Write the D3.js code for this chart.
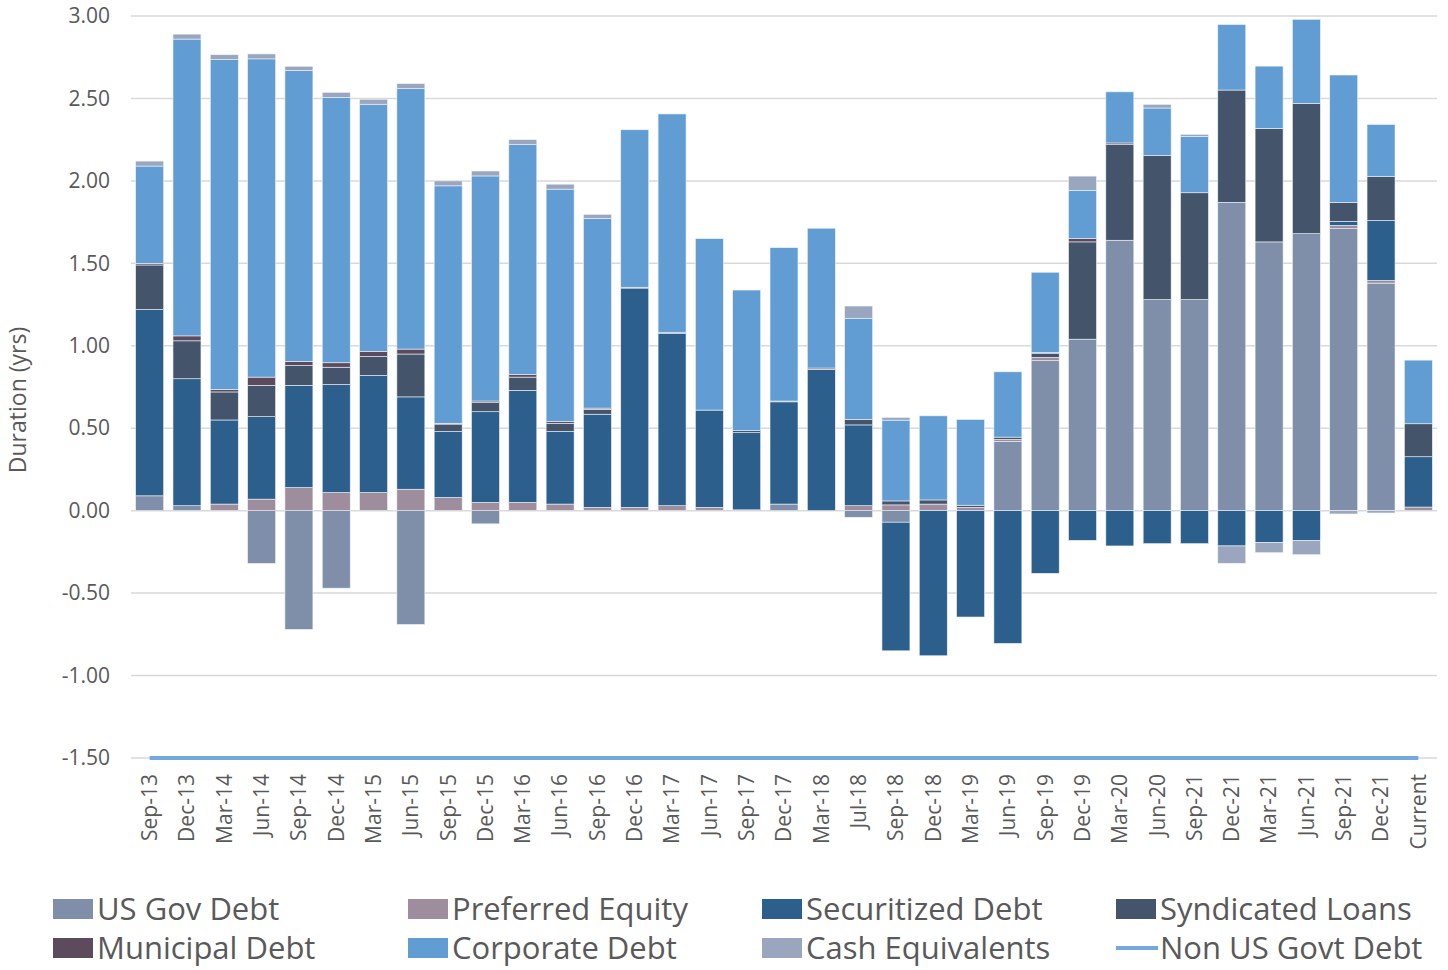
<!DOCTYPE html>
<html>
<head>
<meta charset="utf-8">
<script src="https://cdn.jsdelivr.net/npm/d3@7"></script>
<style>
  body { margin: 0; background: #fff; }
  text { font-family: "Open Sans", sans-serif; fill: #595959; }
</style>
</head>
<body>
<div id="grafico"></div>
<script>
// Dados do gráfico
const categories = ["Sep-13", "Dec-13", "Mar-14", "Jun-14", "Sep-14", "Dec-14", "Mar-15", "Jun-15",
  "Sep-15", "Dec-15", "Mar-16", "Jun-16", "Sep-16", "Dec-16", "Mar-17", "Jun-17", "Sep-17", "Dec-17",
  "Mar-18", "Jul-18", "Sep-18", "Dec-18", "Mar-19", "Jun-19", "Sep-19", "Dec-19", "Mar-20", "Jun-20",
  "Sep-21", "Dec-21", "Mar-21", "Jun-21", "Sep-21", "Dec-21", "Current"];

const usGovDebt = [0.09, 0.03, 0, -0.32, -0.72, -0.47, 0, -0.69, 0, -0.08, 0, 0, 0, 0, 0, 0, 0, 0.04,
  0, -0.04, -0.07, 0, 0, 0.42, 0.91, 1.04, 1.64, 1.28, 1.28, 1.87, 1.63, 1.68, 1.71, 1.38, 0];
const preferredEquity = [0, 0, 0.04, 0.07, 0.14, 0.11, 0.11, 0.13, 0.08, 0.05, 0.05, 0.04, 0.02, 0.02,
  0.03, 0.02, 0.005, 0, 0, 0.03, 0.035, 0.04, 0.02, 0.012, 0.02, 0, 0, 0, 0, 0, 0, 0, 0.02, 0.016, 0.022];
const securitizedDebt = [1.13, 0.77, 0.51, 0.50, 0.62, 0.655, 0.71, 0.56, 0.40, 0.55, 0.68, 0.44, 0.565,
  1.33, 1.045, 0.59, 0.468, 0.62, 0.857, 0.49, -0.78, -0.88, -0.645, -0.805, -0.38, -0.18, -0.214, -0.2,
  -0.2, -0.214, -0.194, -0.182, 0.025, 0.364, 0.305];
const syndicatedLoans = [0.27, 0.23, 0.17, 0.19, 0.12, 0.105, 0.115, 0.26, 0.045, 0.055, 0.08, 0.05, 0.03,
  0.005, 0.007, 0, 0.012, 0.005, 0, 0.034, 0.024, 0.025, 0.013, 0.014, 0.025, 0.59, 0.58, 0.873, 0.648,
  0.681, 0.688, 0.79, 0.115, 0.268, 0.2];
const municipalDebt = [0.01, 0.03, 0.015, 0.05, 0.025, 0.027, 0.03, 0.03, 0.005, 0.01, 0.015, 0.01, 0.007,
  0, 0, 0, 0, 0, 0.008, 0, 0, 0, 0, 0, 0.004, 0.02, 0.01, 0, 0, 0, 0, 0, 0, 0, 0];
const corporateDebt = [0.59, 1.80, 2.00, 1.93, 1.765, 1.61, 1.50, 1.58, 1.44, 1.365, 1.395, 1.41, 1.15,
  0.955, 1.324, 1.04, 0.853, 0.93, 0.848, 0.613, 0.49, 0.51, 0.52, 0.396, 0.487, 0.293, 0.31, 0.289,
  0.342, 0.397, 0.378, 0.51, 0.772, 0.314, 0.386];
const cashEquivalents = [0.03, 0.03, 0.03, 0.03, 0.025, 0.03, 0.03, 0.03, 0.03, 0.03, 0.03, 0.03, 0.025,
  0, 0, 0, 0, 0, 0, 0.074, 0.016, 0, 0, 0, 0, 0.086, 0, 0.022, 0.012, -0.105, -0.061, -0.085, -0.02,
  -0.014, 0];
const nonUsGovtDebt = categories.map(() => -1.5);

const yTicks = [-1.5, -1, -0.5, 0, 0.5, 1, 1.5, 2, 2.5, 3];

const seriesNames = ["US Gov Debt", "Preferred Equity", "Securitized Debt", "Syndicated Loans",
  "Municipal Debt", "Corporate Debt", "Cash Equivalents"];
const seriesValues = [usGovDebt, preferredEquity, securitizedDebt, syndicatedLoans,
  municipalDebt, corporateDebt, cashEquivalents];
const colors = ["#7f8fa9", "#9e8d9c", "#2c5f8c", "#44546a", "#5c4b5d", "#619dd2", "#9aa6be"];
const lineColor = "#73aadb";

// Definições do gráfico
const margin = { top: 16, right: 11, bottom: 212, left: 131 };
const width = 1448 - margin.left - margin.right;
const height = 970 - margin.top - margin.bottom;

const svg = d3.select("#grafico")
  .append("svg")
  .attr("width", 1448)
  .attr("height", 970);

const g = svg.append("g")
  .attr("transform", `translate(${margin.left},${margin.top})`);

// Monta a tabela para o stack
const table = categories.map((c, i) => {
  const row = { idx: i };
  seriesNames.forEach((s, k) => row[s] = seriesValues[k][i]);
  return row;
});

const stacked = d3.stack()
  .keys(seriesNames)
  .offset(d3.stackOffsetDiverging)(table);

// Escalas
const xScale = d3.scaleBand()
  .domain(categories.map((c, i) => i))
  .range([0, width])
  .paddingInner(0.25)
  .paddingOuter(0.125);

const yScale = d3.scaleLinear()
  .domain([-1.5, 3])
  .range([height, 0]);

// Linhas de grade
g.append("g")
  .selectAll("line")
  .data(yTicks)
  .enter().append("line")
  .attr("x1", 0)
  .attr("x2", width)
  .attr("y1", d => yScale(d))
  .attr("y2", d => yScale(d))
  .attr("stroke", "#d9d9d9")
  .attr("stroke-width", 1.5);

// Barras empilhadas
g.selectAll(".serie")
  .data(stacked)
  .enter().append("g")
  .attr("class", "serie")
  .attr("fill", (d, i) => colors[i])
  .selectAll("rect")
  .data(d => d.filter(p => p[1] !== p[0]))
  .enter().append("rect")
  .attr("x", d => xScale(d.data.idx))
  .attr("width", xScale.bandwidth())
  .attr("y", d => yScale(Math.max(d[0], d[1])))
  .attr("height", d => Math.abs(yScale(d[0]) - yScale(d[1])))
  .attr("stroke", "#eef3f9")
  .attr("stroke-width", 0.6);

// Linha Non US Govt Debt
const line = d3.line()
  .x((d, i) => xScale(i) + xScale.bandwidth() / 2)
  .y(d => yScale(d));

g.append("path")
  .datum(nonUsGovtDebt)
  .attr("fill", "none")
  .attr("stroke", lineColor)
  .attr("stroke-width", 4)
  .attr("d", line);

// Eixos
const yAxis = d3.axisLeft(yScale)
  .tickValues(yTicks)
  .tickSize(0)
  .tickPadding(21)
  .tickFormat(d => d.toFixed(2));

g.append("g")
  .call(yAxis)
  .call(a => a.select(".domain").remove())
  .selectAll("text")
  .style("font-size", "21px")
  .style("font-family", "'Open Sans', sans-serif")
  .attr("fill", "#595959");

const xAxis = d3.axisBottom(xScale)
  .tickSize(0)
  .tickFormat(i => categories[i]);

g.append("g")
  .attr("transform", `translate(0,${height})`)
  .call(xAxis)
  .call(a => a.select(".domain").remove())
  .selectAll("text")
  .style("font-size", "21px")
  .style("font-family", "'Open Sans', sans-serif")
  .attr("fill", "#595959")
  .attr("text-anchor", "end")
  .attr("transform", "rotate(-90)")
  .attr("x", -16)
  .attr("y", 0)
  .attr("dy", "0.35em");

// Título do eixo Y
svg.append("text")
  .attr("text-anchor", "middle")
  .attr("transform", "rotate(-90)")
  .attr("x", -400)
  .attr("y", 26)
  .style("font-size", "23px")
  .text("Duration (yrs)");

// Legenda
const legendCols = [53, 408, 762, 1116];
const legendRows = [909, 948];
const legendItems = seriesNames.map((s, i) => ({ name: s, color: colors[i], type: "rect" }))
  .concat([{ name: "Non US Govt Debt", color: lineColor, type: "line" }]);

const legend = svg.append("g");
legendItems.forEach((item, i) => {
  const lx = legendCols[i % 4];
  const ly = legendRows[Math.floor(i / 4)];
  if (item.type === "rect") {
    legend.append("rect")
      .attr("x", lx)
      .attr("y", ly - 10)
      .attr("width", 40)
      .attr("height", 20)
      .attr("fill", item.color);
  } else {
    legend.append("line")
      .attr("x1", lx)
      .attr("x2", lx + 42)
      .attr("y1", ly)
      .attr("y2", ly)
      .attr("stroke", item.color)
      .attr("stroke-width", 4);
  }
  legend.append("text")
    .attr("x", lx + 44)
    .attr("y", ly)
    .attr("dy", "0.35em")
    .style("font-size", "31px")
    .text(item.name);
});
</script>
</body>
</html>
